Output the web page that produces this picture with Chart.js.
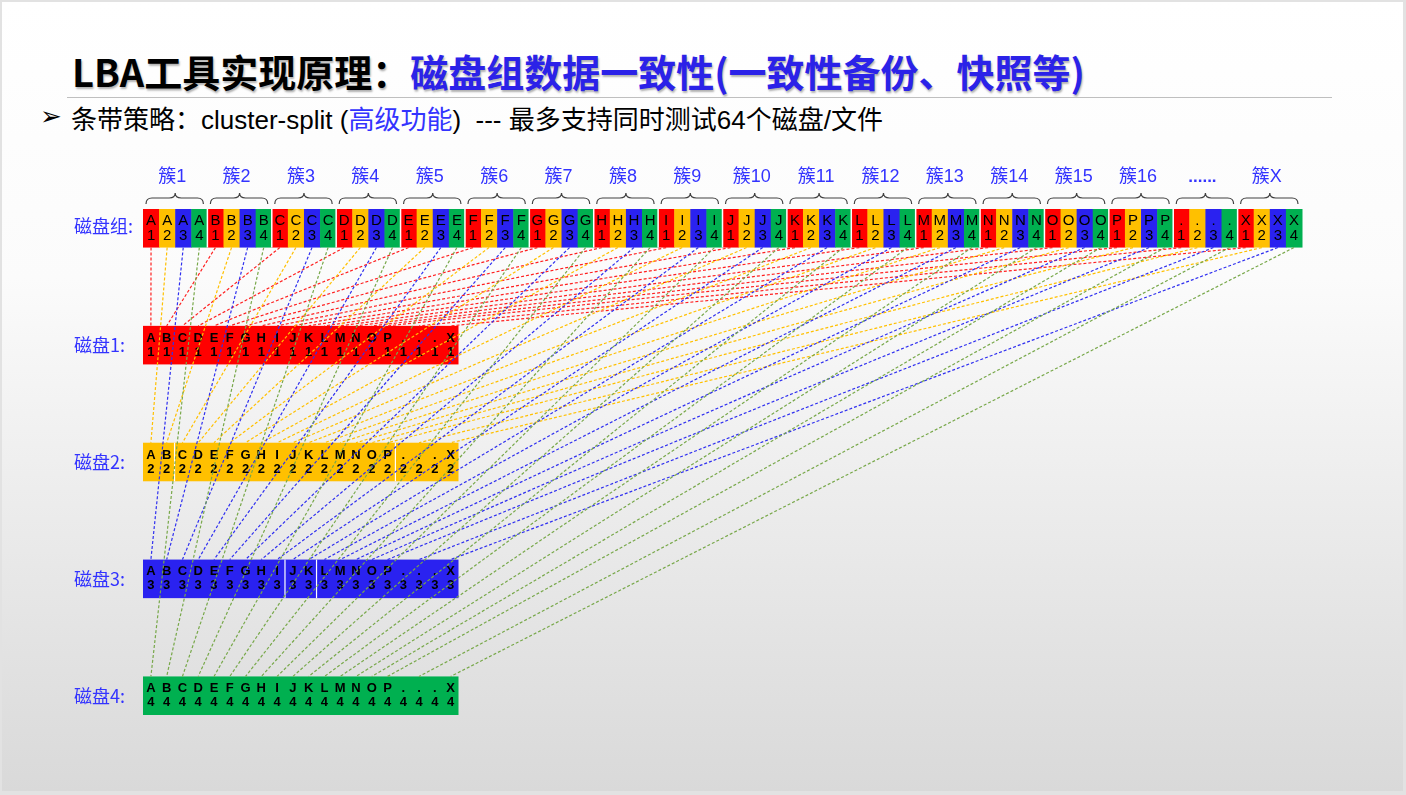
<!DOCTYPE html>
<html>
<head>
<meta charset="utf-8">
<script src="https://cdn.jsdelivr.net/npm/chart.js@4.4.0/dist/chart.umd.min.js"></script>
<style>
  html, body { margin: 0; padding: 0; }
  body { width: 1406px; height: 795px; overflow: hidden; background: #e2e2e2; position: relative; }
  #slide { position: absolute; left: 2px; top: 2px; width: 1401px; height: 789px;
           background: linear-gradient(#ffffff 0%, #fbfbfb 35%, #d9d9d9 100%); }
  #title { position: absolute; left: 72px; top: 43px; line-height: 38px; white-space: nowrap;
           font: bold 38px "Noto Sans CJK SC", sans-serif; color: #000;
           text-shadow: 1px 2px 2px rgba(0,0,0,0.3); }
  #title .blue { color: #2b22e8; }
  #rule { position: absolute; left: 67px; top: 97px; width: 1265px; height: 1px; background: #bfbfbf; }
  #bullet { position: absolute; left: 40px; top: 103px; font: 26px "DejaVu Sans"; line-height: 26px; }
  #sub { position: absolute; left: 71px; top: 99px; line-height: 26px; white-space: nowrap;
         font: 26px "Noto Sans CJK SC", sans-serif; color: #000; }
  #sub .lat { font: 26px "Liberation Sans", sans-serif; }
  #sub .blue { color: #3333ff; }
  canvas { position: absolute; left: 0; top: 0; }
</style>
</head>
<body>
<div id="slide"></div>
<div id="title">LBA工具实现原理：<span class="blue">磁盘组数据一致性(一致性备份、快照等)</span></div>
<div id="rule"></div>
<div id="bullet">➢</div>
<div id="sub">条带策略：<span class="lat">cluster-split (</span><span class="blue">高级功能</span><span class="lat">)&nbsp; --- </span>最多支持同时测试<span class="lat">64</span>个磁盘<span class="lat">/</span>文件</div>
<canvas id="chart" width="1406" height="795"></canvas>
<script>
// data
const clusterLabels = ['簇1', '簇2', '簇3', '簇4', '簇5', '簇6', '簇7', '簇8', '簇9',
    '簇10', '簇11', '簇12', '簇13', '簇14', '簇15', '簇16', '......', '簇X'];
const clusterKeys = ['A', 'B', 'C', 'D', 'E', 'F', 'G', 'H', 'I', 'J', 'K', 'L', 'M', 'N', 'O', 'P', '.', 'X'];
const diskNumbers = [1, 2, 3, 4];
const groupLabel = '磁盘组:';
const diskLabels = ['磁盘1:', '磁盘2:', '磁盘3:', '磁盘4:'];
const diskColumns = ['A', 'B', 'C', 'D', 'E', 'F', 'G', 'H', 'I', 'J', 'K', 'L', 'M', 'N', 'O', 'P', '.', '.', '.', 'X'];
// which disk column each cluster lands in
const clusterColumn = [0, 1, 2, 3, 4, 5, 6, 7, 8, 9, 10, 11, 12, 13, 14, 15, 17, 19];

// looks
const cellColors = ['#ff0000', '#ffc000', '#2a22f0', '#00b050'];
const lineColors = ['#ff2020', '#ffc000', '#3030f0', '#78a84a'];
const diskBreaks = [[], [2, 16], [9, 11], []];
const CELL_H = 0.33;
const DISK_W = 0.98;
const labelBlue = '#3333ff';

const diagram = {
    id: 'diagram',
    beforeDatasetsDraw(chart) {
        const ctx = chart.ctx;
        const x = chart.scales.x;
        const y = chart.scales.y;
        ctx.save();
        ctx.textAlign = 'center';
        ctx.textBaseline = 'middle';

        // disk group row
        const t0 = y.getPixelForValue(0);
        const b0 = y.getPixelForValue(CELL_H);
        const h0 = b0 - t0;
        clusterKeys.forEach(function(key, c) {
            diskNumbers.forEach(function(n, d) {
                const l = x.getPixelForValue(c * 4 + d);
                const r = x.getPixelForValue(c * 4 + d + 1);
                ctx.fillStyle = cellColors[d];
                ctx.fillRect(l, t0, r - l + 0.5, h0);
                ctx.fillStyle = '#000';
                ctx.font = '15px "Liberation Sans"';
                ctx.fillText(key, (l + r) / 2, t0 + h0 * 0.3);
                ctx.fillText(String(n), (l + r) / 2, t0 + h0 * 0.7);
            });
            const cl = x.getPixelForValue(c * 4);
            const cr = x.getPixelForValue(c * 4 + 4);
            const cx = (cl + cr) / 2;
            if (c > 0) {
                ctx.fillStyle = '#ffffff';
                ctx.fillRect(cl - 0.75, t0, 1.5, h0);
            }
            // brace
            const yb = t0 - 5, ym = t0 - 11, yt = t0 - 16;
            const bl = cl + 3, br = cr - 4, rr = 6;
            ctx.strokeStyle = '#404040';
            ctx.lineWidth = 1.2;
            ctx.beginPath();
            ctx.moveTo(bl, yb);
            ctx.quadraticCurveTo(bl, ym, bl + rr, ym);
            ctx.lineTo(cx - rr, ym);
            ctx.quadraticCurveTo(cx, ym, cx, yt);
            ctx.quadraticCurveTo(cx, ym, cx + rr, ym);
            ctx.lineTo(br - rr, ym);
            ctx.quadraticCurveTo(br, ym, br, yb);
            ctx.stroke();
            // cluster label
            ctx.fillStyle = labelBlue;
            if (clusterLabels[c].startsWith('.')) {
                ctx.font = 'bold 17px "Liberation Sans"';
            } else {
                ctx.font = '18px "Liberation Sans", "Noto Sans CJK SC"';
            }
            ctx.fillText(clusterLabels[c], cx - 3, t0 - 32);
        });
        ctx.textAlign = 'left';
        ctx.fillStyle = labelBlue;
        ctx.font = '18px "Noto Sans CJK SC", "Liberation Sans"';
        ctx.fillText(groupLabel, x.getPixelForValue(0) - 69, t0 + h0 / 2 - 2);

        // single disks
        diskLabels.forEach(function(label, d) {
            const t = y.getPixelForValue(d + 1);
            const b = y.getPixelForValue(d + 1 + CELL_H);
            const h = b - t;
            const l = x.getPixelForValue(0);
            const r = x.getPixelForValue(diskColumns.length * DISK_W);
            ctx.fillStyle = cellColors[d];
            ctx.fillRect(l, t, r - l, h);
            ctx.fillStyle = '#ffffff';
            diskBreaks[d].forEach(function(k) {
                ctx.fillRect(x.getPixelForValue(k * DISK_W) - 0.6, t, 1.2, h);
            });
            ctx.textAlign = 'center';
            ctx.fillStyle = '#000';
            ctx.font = 'bold 13px "Liberation Sans"';
            diskColumns.forEach(function(col, k) {
                const cx = x.getPixelForValue((k + 0.5) * DISK_W);
                ctx.fillText(col, cx, t + h * 0.32);
                ctx.fillText(String(diskNumbers[d]), cx, t + h * 0.68);
            });
            ctx.textAlign = 'left';
            ctx.fillStyle = labelBlue;
            ctx.font = '18px "Noto Sans CJK SC", "Liberation Sans"';
            ctx.fillText(label, l - 69, t + h / 2);
        });
        ctx.restore();
    }
};

const datasets = [];
clusterKeys.forEach(function(key, c) {
    diskNumbers.forEach(function(n, d) {
        datasets.push({
            label: key + n,
            data: [
                { x: c * 4 + d + 0.5, y: CELL_H },
                { x: (clusterColumn[c] + 0.5) * DISK_W, y: d + 1 }
            ],
            showLine: true,
            borderColor: lineColors[d],
            borderWidth: 1.2,
            borderDash: [3, 2],
            pointRadius: 0,
            clip: false
        });
    });
});

const ctx = document.getElementById('chart').getContext('2d');
new Chart(ctx, {
    type: 'scatter',
    data: { datasets: datasets },
    options: {
        responsive: false,
        animation: false,
        events: [],
        layout: { padding: { left: 143, right: 104, top: 209, bottom: 80 } },
        scales: {
            x: { type: 'linear', min: 0, max: 72, display: false },
            y: { type: 'linear', min: 0, max: 4 + CELL_H, reverse: true, display: false }
        },
        plugins: {
            legend: { display: false },
            tooltip: { enabled: false },
            title: { display: false }
        }
    },
    plugins: [diagram]
});
</script>
</body>
</html>
